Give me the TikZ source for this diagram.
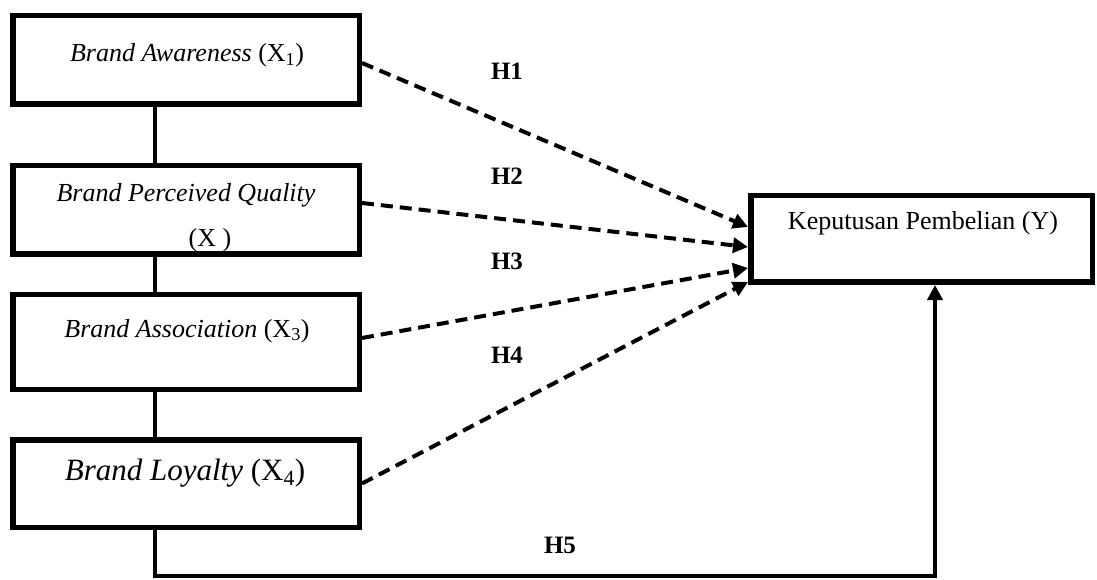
\documentclass[tikz,border=0pt]{standalone}
\usepackage{fontspec}
\setmainfont{Liberation Serif}
\usetikzlibrary{arrows.meta,calc}
\newcommand\fsMain{\fontsize{26}{30}\selectfont}
\newcommand\fsBig{\fontsize{31}{36}\selectfont}
\newcommand\fsHyp{\fontsize{25}{30}\selectfont\bfseries}
\begin{document}
\begin{tikzpicture}[x=1pt,y=1pt,
  box/.style={draw, line width=5.5pt, minimum width=346.5pt, inner sep=0pt},
  txt/.style={anchor=base, inner sep=0pt, font=\fsMain},
  hlab/.style={anchor=base, inner sep=0pt, font=\fsHyp},
  link/.style={line width=4pt},
  hyp/.style={line width=4pt, dash pattern=on 12pt off 7pt, -{Triangle[length=15pt,width=15pt]}},
  solidarrow/.style={line width=3.5pt, -{Triangle[length=15pt,width=15pt]}}]
\useasboundingbox (0,0) rectangle (1097,579);
% boxes
\node[box, minimum height=88.5pt] (b1) at (186,519) {};
\node[box, minimum height=88.5pt] (b2) at (186,369) {};
\node[box, minimum height=94.5pt] (b3) at (186,237) {};
\node[box, minimum height=87.5pt] (b4) at (186,95.5) {};
\node[box, minimum width=341.5pt, minimum height=86.5pt] (bY) at (921.5,340) {};
% texts
\node[txt] (t1) at (187,517) {\textit{Brand Awareness} (X\textsubscript{1})};
\node[txt] (t2) at (186,377) {\textit{Brand Perceived Quality}};
\node[txt] (t2b) at (210,332) {(X\ )};
\node[txt] (t3) at (187,242) {\textit{Brand Association} (X\textsubscript{3})};
\node[txt, font=\fsBig] (t4) at (185,99) {\textit{Brand Loyalty} (X\textsubscript{4})};
\node[txt] (tY) at (923,349) {Keputusan Pembelian (Y)};
% hypothesis labels
\node[hlab] (h1) at (507,499) {H1};
\node[hlab] (h2) at (507,394) {H2};
\node[hlab] (h3) at (507,309) {H3};
\node[hlab] (h4) at (507,216) {H4};
\node[hlab] (h5) at (560,26) {H5};
% spine links
\coordinate (spine) at (155,0);
\draw[link] (b1.south -| spine) -- (b2.north -| spine);
\draw[link] (b2.south -| spine) -- ([yshift=-4pt]b3.north -| spine);
\draw[link] (b3.south -| spine) -- (b4.north -| spine);
% dashed hypotheses
\draw[hyp] ([yshift=-3pt]b1.east) -- ([yshift=12pt]bY.west);
\draw[hyp] ([yshift=7pt]b2.east) -- ([yshift=-8pt]bY.west);
\draw[hyp] ([yshift=4pt]b3.east) -- ([yshift=-29pt]bY.west);
\draw[hyp] (b4.east) -- ([yshift=3pt]bY.south west);
% H5
\coordinate (h5c) at (935,3);
\draw[solidarrow] (b4.south -| spine) |- (h5c) -- (bY.south -| h5c);
\end{tikzpicture}
\end{document}
